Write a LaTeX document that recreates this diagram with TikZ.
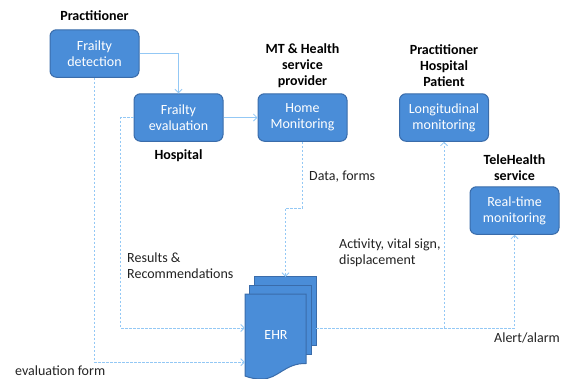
\documentclass[tikz,border=0pt]{standalone}
\usepackage{fontspec}
\setmainfont{Carlito}
\usetikzlibrary{arrows.meta,calc}
\definecolor{boxfill}{HTML}{4A8DD8}
\definecolor{boxline}{HTML}{3A6CAA}
\definecolor{conn}{HTML}{93C8F5}
\definecolor{lbl}{HTML}{222222}
\tikzset{
  procbox/.style={draw=boxline,line width=1pt,fill=boxfill,rounded corners=6.5pt,minimum width=89pt,minimum height=47.5pt,inner sep=0pt,align=center,text=white,font=\fontsize{14}{16}\selectfont,anchor=center},
  docframe/.style={draw=none,minimum width=61pt,minimum height=68pt,inner sep=0pt},
  docsheet/.style={draw=boxline,line width=1pt,fill=boxfill},
  flow/.style={draw=conn,line width=0.8pt,-{Straight Barb[length=3.5pt,width=7pt]}},
  dflow/.style={flow,dash pattern=on 2.5pt off 1.5pt},
  who/.style={font=\fontsize{14}{16}\selectfont\bfseries,align=center,text=black,inner sep=0pt},
  note/.style={font=\fontsize{14}{16}\selectfont,align=left,text=lbl,inner sep=0pt,anchor=west},
}
\begin{document}
\begin{tikzpicture}[x=1pt,y=-1pt]
\useasboundingbox (0,0) rectangle (568,378);
\clip (0,0) rectangle (568,378);
\node[procbox] (detect) at (94.5,53.5) {\raisebox{-1pt}{Frailty}\\\raisebox{-1pt}{detection}};
\node[procbox] (eval) at (178.5,117.5) {\raisebox{-1pt}{Frailty}\\\raisebox{-1pt}{evaluation}};
\node[procbox] (home) at (302.5,117.5) {\raisebox{-1pt}{Home}\\\raisebox{-1pt}{Monitoring}};
\node[procbox] (long) at (444,117.5) {\raisebox{-1pt}{Longitudinal}\\\raisebox{-1pt}{monitoring}};
\node[procbox] (real) at (514.5,210.5) {\raisebox{-1pt}{Real-time}\\\raisebox{-1pt}{monitoring}};
\node[docframe] (back) at (285.5,311) {};
\node[docframe] (mid) at (280.5,320) {};
\node[docframe] (ehr) at (275.5,328) {};
\draw[docsheet] (back.north west) rectangle (back.south east);
\draw[docsheet] (mid.north west) rectangle (mid.south east);
\draw[docsheet] (245,294) -- (306,294) -- (306,363.5) .. controls (285,363) and (278,379) .. (262,379) .. controls (255,379) and (250,378) .. (245,376) -- cycle;
\node[text=white,font=\fontsize{14}{16}\selectfont,inner sep=0pt] (ehrtext) at (276,335) {EHR};
\draw[flow] (detect.east) -| (eval.north);
\draw[flow] (eval.east) -- (home.west);
\draw[dflow] (eval.west) -- (120.5,117.5) |- (ehr.west);
\draw[dflow] (detect.south) |- (ehr.south west);
\draw[dflow] (home.south) -- (302.5,208) -| (back.north);
\draw[dflow] (back.east |- ehr.west) -| (real.south);
\draw[dflow] (long.south |- ehr.west) -- (long.south);
\node[who] (w1) at (94.5,16) {Practitioner};
\node[who] (w2) at (178.5,156) {Hospital};
\node[who] (w3) at (302.5,66) {MT \& Health\\service\\provider};
\node[who] (w4) at (444,66) {Practitioner\\Hospital\\Patient};
\node[who] (w5) at (514.5,168) {TeleHealth\\service};
\node[note] (n1) at (127,266) {Results \&\\Recommendations};
\node[note] (n2) at (309,177) {Data, forms};
\node[note] (n3) at (339,253) {Activity, vital sign,\\displacement};
\node[note] (n4) at (494,338) {Alert/alarm};
\node[note] (n5) at (15,371) {evaluation form};
\end{tikzpicture}
\end{document}
